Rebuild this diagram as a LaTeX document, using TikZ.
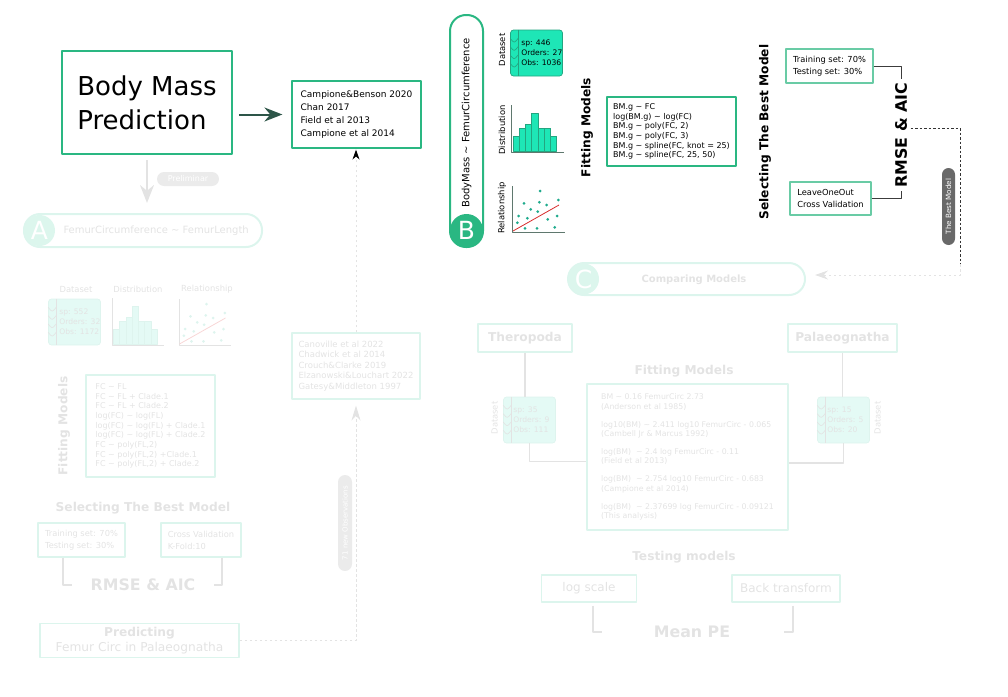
\documentclass[tikz,border=0pt]{standalone}
\usepackage{fontspec}
\setmainfont{DejaVu Sans}
\usetikzlibrary{arrows.meta, positioning}

\definecolor{bmgreen}{RGB}{42,183,130}
\definecolor{bmsoft}{RGB}{105,203,165}
\definecolor{bmdark}{RGB}{60,60,60}
\definecolor{arrowgreen}{RGB}{45,85,72}
\definecolor{dsfill}{RGB}{30,230,182}
\definecolor{dsedge}{RGB}{35,165,128}
\definecolor{axisgray}{RGB}{95,120,110}
\definecolor{dotteal}{RGB}{30,170,140}
\definecolor{fitred}{RGB}{215,45,45}
\definecolor{pillgray}{RGB}{105,105,105}
\definecolor{fadegreen}{RGB}{220,245,237}
\definecolor{fademint}{RGB}{220,246,237}
\definecolor{fadefill}{RGB}{228,250,245}
\definecolor{fadeedge}{RGB}{222,244,238}
\definecolor{fadetext}{RGB}{227,227,227}
\definecolor{fadeline}{RGB}{227,227,227}
\definecolor{fadepill}{RGB}{235,235,235}
\definecolor{fadered}{RGB}{248,214,214}

\begin{document}
\begin{tikzpicture}[x=1pt, y=-1pt, line join=round]
	% --- Parameters ---
	\def\dsW{52}
	\def\dsH{46}
	\def\histbars{0/15, 1/23, 2/27, 3/38, 4/23, 5/23, 6/15}
	\def\scatterpts{27.5/-41, 11.5/-28.7, 26.8/-29.7, 34.2/-27, 45.8/-32, 6.2/-16, 18.2/-22.7, 25.2/-20.3, 44.5/-16, 4.8/-9.3, 14.8/-13.7, 35.2/-12.7, 12.5/-3.7, 24.5/-3.7, 42.2/-4.7}
	
	% --- Styles ---
	\tikzset{
		mainbox/.style={draw=bmgreen, line width=1.8pt, align=left},
		refbox/.style={draw=bmgreen, line width=1.2pt, align=left},
		softbox/.style={draw=bmsoft, line width=1.1pt, align=left, font=\fontsize{8.3}{12}\selectfont},
		fadebox/.style={draw=fadegreen, line width=1.1pt, align=left, text=fadetext},
		dsbox/.style={draw=dsedge, fill=dsfill, rounded corners=3pt, line width=0.7pt, minimum width=\dsW pt, minimum height=\dsH pt},
		fadeds/.style={draw=fadeedge, fill=fadefill, rounded corners=3pt, line width=0.7pt, minimum width=\dsW pt, minimum height=\dsH pt},
		dstext/.style={align=left, inner sep=0pt, font=\fontsize{7.6}{10}\selectfont},
		sidelabel/.style={font=\fontsize{8.4}{10}\selectfont},
		heading/.style={font=\bfseries\fontsize{12.2}{14}\selectfont},
		bigheading/.style={font=\bfseries\fontsize{15.8}{18}\selectfont},
		letter/.style={circle, inner sep=0pt, minimum size=33pt, text=white, font=\fontsize{25}{25}\selectfont},
		tag/.style={rounded corners=6.5pt, inner sep=1pt, text=white},
		histbar/.style={draw=dsedge, fill=dsfill, line width=0.7pt},
		fadebar/.style={draw=fadeedge, fill=fadefill, line width=0.7pt},
		axisline/.style={draw=axisgray, line width=0.9pt},
		bracket/.style={draw=bmdark, line width=1pt},
		fadelink/.style={draw=fadeline, line width=1.1pt},
		darkdash/.style={draw=black!80, line width=0.9pt, dash pattern=on 2.5pt off 2pt},
		fadedash/.style={draw=fadeline, line width=1pt, dash pattern=on 2.5pt off 2.5pt}
	}
	
	\useasboundingbox (0,0) rectangle (1008,696);
	
	% --- Body Mass Prediction ---
	\node[mainbox, minimum width=170pt, minimum height=103pt, font=\fontsize{26}{34}\selectfont] (body) at (147,102.5) {Body Mass\\Prediction};
	\node[refbox, minimum width=129pt, minimum height=67pt, font=\fontsize{9}{13.3}\selectfont] (refs) at (356.5,114.5) {Campione\&Benson 2020\\Chan 2017\\Field et al 2013\\Campione et al 2014};
	\draw[line width=2pt, arrowgreen, -{Stealth[length=18pt, width=14pt]}, shorten <=6pt, shorten >=9pt] (body.east |- refs.west) -- (refs.west);
	
	% --- B: BodyMass ~ FemurCircumference ---
	\node[draw=bmgreen, line width=2pt, rounded corners=16pt, minimum width=33pt, minimum height=232pt] (pillB) at (466.5,131) {};
	\node[letter, fill=bmgreen] (circB) at (466.5,230.5) {B};
	\node[rotate=90, font=\fontsize{10}{12}\selectfont] (eqB) at (466.5,123) {BodyMass \textasciitilde{} FemurCircumference};
	
	\node[sidelabel, rotate=90] (dsBlab) at (502,50) {Dataset};
	\node[dsbox] (dsB) at (536.5,53) {};
	\node[dstext, anchor=west] (dsBtxt) at ([xshift=11pt]dsB.west) {sp: 446\\Orders: 27\\Obs: 1036};
	\begin{scope}[shift={(dsB.north west)}, dsedge, line width=0.6pt]
		\draw (8,0) -- (8,\dsH);
		\foreach \yy in {11.7,20,28.3,36.7}
		\draw (0,\yy-3) .. controls (4,\yy+2) .. (8,\yy-3);
	\end{scope}
	
	\node[sidelabel, rotate=90] (distBlab) at (502,130) {Distribution};
	\begin{scope}[shift={(511.5,152)}]
		\foreach \i/\h in \histbars
		\draw[histbar] (1.5+6.25*\i,-0.8) rectangle ++(6.25,-\h);
		\draw[axisline] (0,-47) -- (0,0) -- (52,0);
	\end{scope}
	
	\node[sidelabel, rotate=90] (relBlab) at (502,208) {Relationship};
	\begin{scope}[shift={(512.5,232)}]
		\draw[axisline] (0,-46) -- (0,0) -- (52,0);
		\draw[fitred, line width=0.8pt] (0.5,-1) -- (46.5,-27);
		\foreach \px/\py in \scatterpts
		\fill[dotteal] (\px,\py) circle (1.5);
	\end{scope}
	
	\node[heading, rotate=90] (fitBlab) at (587,127.5) {Fitting Models};
	\node[refbox, minimum width=129pt, minimum height=69pt, font=\fontsize{8}{9.7}\selectfont] (modelsB) at (671.5,131.5) {BM.g \textasciitilde{} FC\\log(BM.g) \textasciitilde{} log(FC)\\BM.g \textasciitilde{} poly(FC, 2)\\BM.g \textasciitilde{} poly(FC, 3)\\BM.g \textasciitilde{} spline(FC, knot = 25)\\BM.g \textasciitilde{} spline(FC, 25, 50)};
	
	\node[heading, rotate=90] (selBlab) at (765,132) {Selecting The Best Model};
	\node[softbox, minimum width=87pt, minimum height=34pt] (trainB) at (829.5,66) {Training set: 70\%\\Testing set: 30\%};
	\node[softbox, minimum width=81pt, minimum height=33pt] (looB) at (830.5,198.5) {LeaveOneOut\\Cross Validation};
	\node[bigheading, rotate=90] (rmseB) at (901,135) {RMSE \& AIC};
	\draw[bracket] (trainB.east) -| (rmseB.east);
	\draw[bracket] (looB.east) -| (rmseB.west);
	
	\coordinate (bestTurn) at (960,264);
	\draw[darkdash] ([yshift=7pt]rmseB.south) -| (bestTurn);
	\node[tag, fill=pillgray, rotate=90, minimum width=77pt, minimum height=13pt, font=\fontsize{7.2}{8}\selectfont] (bestB) at (948.5,206.5) {The Best Model};
	
	% --- C: Comparing Models ---
	\node[draw=fadegreen, line width=2pt, rounded corners=16pt, minimum width=237pt, minimum height=32pt] (pillC) at (686.5,279) {};
	\node[letter, fill=fademint, minimum size=31pt] (circC) at (583.5,279) {C};
	\node[font=\bfseries\fontsize{10}{12}\selectfont, text=fadetext] (cmpC) at (694,280) {Comparing Models};
	\draw[fadedash, -{Stealth[length=13pt, width=9pt]}, shorten >=9pt] (bestTurn) |- ([yshift=4pt]pillC.east);
	
	\node[fadebox, heading, minimum width=94pt, minimum height=28pt] (thero) at (525,338) {Theropoda};
	\node[fadebox, heading, minimum width=109pt, minimum height=28pt] (palaeo) at (842.5,338) {Palaeognatha};
	\node[heading, text=fadetext] (fitClab) at (684,371) {Fitting Models};
	\node[fadebox, line width=2.5pt, minimum width=201pt, minimum height=146pt, font=\fontsize{7.8}{9.3}\selectfont] (fitC) at (687.5,457) {BM \textasciitilde{} 0.16 FemurCirc 2.73\\(Anderson et al 1985)\\[8.7pt]log10(BM) \textasciitilde{} 2.411 log10 FemurCirc - 0.065\\(Cambell Jr \& Marcus 1992)\\[8.7pt]log(BM)\ \ \textasciitilde{} 2.4 log FemurCirc - 0.11\\(Field et al 2013)\\[8.7pt]log(BM)\ \ \textasciitilde{} 2.754 log10 FemurCirc - 0.683\\(Campione et al 2014)\\[8.7pt]log(BM)\ \ \textasciitilde{} 2.37699 log FemurCirc - 0.09121\\(This analysis)};
	
	\node[sidelabel, rotate=90, text=fadetext] (dsTlab) at (494.5,418) {Dataset};
	\node[fadeds] (dsT) at (529.5,420) {};
	\node[dstext, anchor=west, text=fadetext] (dsTtxt) at ([xshift=10pt]dsT.west) {sp: 35\\Orders: 9\\Obs: 111};
	\node[sidelabel, rotate=90, text=fadetext] (dsPlab) at (877.5,418) {Dataset};
	\node[fadeds] (dsP) at (843.5,420) {};
	\node[dstext, anchor=west, text=fadetext] (dsPtxt) at ([xshift=10pt]dsP.west) {sp: 15\\Orders: 5\\Obs: 20};
	\foreach \ds in {dsT, dsP}{
		\begin{scope}[shift={(\ds.north west)}, fadeline, line width=0.6pt]
			\draw (8,0) -- (8,\dsH);
			\foreach \yy in {11.7,20,28.3,36.7}
			\draw (0,\yy-3) .. controls (4,\yy+2) .. (8,\yy-3);
		\end{scope}
	}
	\draw[fadelink] (thero.south) -- (thero.south |- dsT.north);
	\draw[fadelink] (dsT.south) |- ([yshift=-4.5pt]fitC.west);
	\draw[fadelink] (palaeo.south) -- (palaeo.south |- dsP.north);
	\draw[fadelink] (dsP.south) |- ([yshift=-6pt]fitC.east);
	
	\node[heading, text=fadetext] (testClab) at (684,557) {Testing models};
	\node[fadebox, minimum width=95pt, minimum height=27pt, font=\fontsize{12}{14}\selectfont] (logS) at (589,588.5) {log scale};
	\node[fadebox, minimum width=108pt, minimum height=27pt, font=\fontsize{12}{14}\selectfont] (backT) at (786,588.5) {Back transform};
	\node[bigheading, text=fadetext] (meanPE) at (692,632) {Mean PE};
	\draw[fadelink] ([xshift=4pt, yshift=-3pt]logS.south) |- ([xshift=-48pt]meanPE.west);
	\draw[fadelink] ([xshift=7pt, yshift=-3pt]backT.south) |- ([xshift=50pt]meanPE.east);
	
	% --- A: FemurCircumference ~ FemurLength ---
	\draw[fadeline, line width=2pt, -{Stealth[length=18pt, width=14pt]}, shorten <=5pt, shorten >=11pt] (body.south) -- (body.south |- 0,214);
	\node[tag, fill=fadepill, minimum width=62pt, minimum height=14pt, font=\fontsize{8}{9}\selectfont, rounded corners=7pt] (prelim) at (188,179) {Preliminar};
	\node[draw=fadegreen, line width=2pt, rounded corners=16pt, minimum width=238pt, minimum height=33pt] (pillA) at (143,230.5) {};
	\node[letter, fill=fademint, minimum size=31pt] (circA) at (39.5,230.5) {A};
	\node[anchor=west, text=fadetext, font=\fontsize{10}{12}\selectfont] (eqA) at (60,231) {FemurCircumference \textasciitilde{} FemurLength};
	
	\node[sidelabel, text=fadetext] (dsAlab) at (76,289) {Dataset};
	\node[sidelabel, text=fadetext] (distAlab) at (138,289) {Distribution};
	\node[sidelabel, text=fadetext] (relAlab) at (207,289) {Relationship};
	\node[fadeds] (dsA) at (74.5,322) {};
	\node[dstext, anchor=west, text=fadetext] (dsAtxt) at ([xshift=11pt]dsA.west) {sp: 552\\Orders: 32\\Obs: 1172};
	\begin{scope}[shift={(dsA.north west)}, fadeline, line width=0.6pt]
		\draw (8,0) -- (8,\dsH);
		\foreach \yy in {11.7,20,28.3,36.7}
		\draw (0,\yy-3) .. controls (4,\yy+2) .. (8,\yy-3);
	\end{scope}
	\begin{scope}[shift={(112,345)}]
		\foreach \i/\h in \histbars
		\draw[fadebar] (1.5+6.25*\i,-0.8) rectangle ++(6.25,-\h);
		\draw[fadelink, line width=0.9pt] (0,-47) -- (0,0) -- (52,0);
	\end{scope}
	\begin{scope}[shift={(179,345)}]
		\draw[fadelink, line width=0.9pt] (0,-46) -- (0,0) -- (52,0);
		\draw[fadered, line width=0.8pt] (0.5,-1) -- (46.5,-27);
		\foreach \px/\py in \scatterpts
		\fill[fadeedge] (\px,\py) circle (1.5);
	\end{scope}
	
	\node[heading, rotate=90, text=fadetext] (fitAlab) at (64,426) {Fitting Models};
	\node[fadebox, minimum width=129pt, minimum height=102pt, font=\fontsize{8}{9.7}\selectfont] (modelsA) at (150.5,426) {FC \textasciitilde{} FL\\FC \textasciitilde{} FL + Clade.1\\FC \textasciitilde{} FL + Clade.2\\log(FC) \textasciitilde{} log(FL)\\log(FC) \textasciitilde{} log(FL) + Clade.1\\log(FC) \textasciitilde{} log(FL) + Clade.2\\FC \textasciitilde{} poly(FL,2)\\FC \textasciitilde{} poly(FL,2) +Clade.1\\FC \textasciitilde{} poly(FL,2) + Clade.2};
	
	\node[heading, text=fadetext] (selAlab) at (143,508) {Selecting The Best Model};
	\node[fadebox, minimum width=87pt, minimum height=34pt, font=\fontsize{8.3}{12}\selectfont] (trainA) at (81.5,540) {Training set: 70\%\\Testing set: 30\%};
	\node[fadebox, minimum width=80pt, minimum height=34pt, font=\fontsize{8.3}{12}\selectfont] (cvA) at (201,540) {Cross Validation\\K-Fold:10};
	\node[bigheading, text=fadetext] (rmseA) at (143,585) {RMSE \& AIC};
	\draw[fadelink] ([xshift=-18.5pt]trainA.south) |- ([xshift=-15pt]rmseA.west);
	\draw[fadelink] ([xshift=21pt]cvA.south) |- ([xshift=15pt]rmseA.east);
	
	\node[fadebox, align=center, minimum width=199pt, minimum height=33pt, font=\fontsize{12.2}{15}\selectfont] (predict) at (139.5,640.5) {\textbf{Predicting}\\Femur Circ in Palaeognatha};
	
	% --- New observations ---
	\node[fadebox, minimum width=128pt, minimum height=66pt, font=\fontsize{8.5}{10.5}\selectfont] (refsA) at (356,366) {Canoville et al 2022\\Chadwick et al 2014\\Crouch\&Clarke 2019\\Elzanowski\&Louchart 2022\\Gatesy\&Middleton 1997};
	\draw[fadedash, -{Stealth[length=15pt, width=9pt]}, shorten >=6pt] (predict.east) -| (refsA.south);
	\node[tag, fill=fadepill, rotate=90, minimum width=96pt, minimum height=14pt, font=\fontsize{7}{8}\selectfont, rounded corners=7pt] (newobs) at (345,523) {71 new Observations};
	\draw[fadedash, -{Stealth[length=10pt, width=7pt, color=black]}, shorten >=1pt] (refsA.north) -- (refsA.north |- refs.south);
\end{tikzpicture}
\end{document}
